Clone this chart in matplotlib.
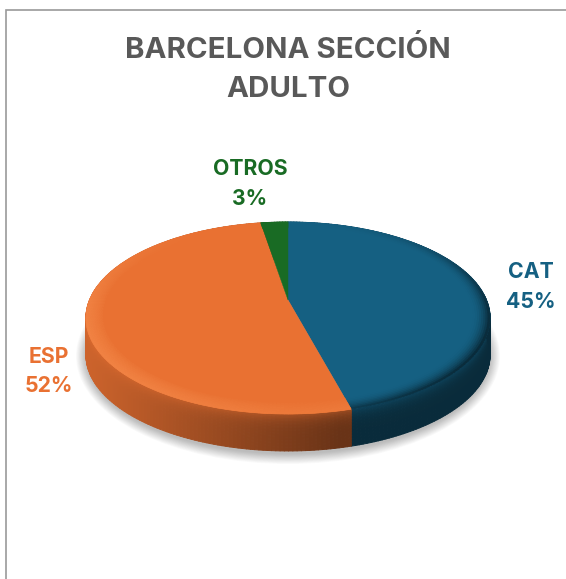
import numpy as np
import matplotlib
matplotlib.use("Agg")
import matplotlib.pyplot as plt
from matplotlib.collections import PolyCollection
from matplotlib.colors import to_rgb
from matplotlib.patches import Ellipse
from matplotlib.transforms import Transform

# Data
categories = ["CAT", "ESP", "OTROS"]
values = [45.8, 51.6, 2.6]
pct_labels = ["45%", "52%", "3%"]
colors = ["#156082", "#E97132", "#196B24"]
title = "BARCELONA SECCIÓN\nADULTO"

# Label positions in pixels
label_pos = [(531, 287), (49, 371.5), (250, 184)]

# Pie geometry in pixels (tilted disc with a bit of perspective)
cx, cy = 288, 300
half_w, half_h = 198.5, 92.6
persp = 0.1875
depth = 37

plt.rcParams["font.family"] = ["Inter", "Liberation Sans", "DejaVu Sans"]


class TiltedDisc(Transform):
    """Maps the unit pie circle onto the tilted disc, in pixel coordinates."""
    input_dims = 2
    output_dims = 2

    def transform_non_affine(self, values):
        xy = np.asarray(values, dtype=float)
        w = 1 + persp * xy[:, 1]
        return np.column_stack([cx + half_w * xy[:, 0] / w, cy - half_h * xy[:, 1] / w])


def mix(c, other, t):
    return tuple(np.array(to_rgb(c)) * (1 - t) + np.array(to_rgb(other)) * t)


def side_colour(base, x):
    # darker to the right, a bit lighter on the far left
    s = (x - 86) / 404
    return mix(base, "#000000", 0.12 + 0.43 * min(s * 1.6, 1.0))


fig = plt.figure(figsize=(5.66, 5.79), dpi=100)
ax = fig.add_axes([0, 0, 1, 1])

wedges, _ = ax.pie(values, colors=colors, startangle=90, counterclock=False)
ax.set_aspect("auto")
ax.set_xlim(0, 566)
ax.set_ylim(579, 0)
ax.axis("off")

disc = TiltedDisc()

# soft shadow under the pie
for grow in np.linspace(20, 0, 14):
    ax.add_patch(Ellipse((cx, 356), 2 * 202 + grow, 196 + grow, fc="#000000", ec="none",
                         alpha=0.018, zorder=1))

# side wall, quads along the rim
side_polys, side_cols = [], []
for w, c in zip(wedges, colors):
    th = np.radians(np.linspace(w.theta1, w.theta2, int(abs(w.theta2 - w.theta1)) + 2))
    rim = disc.transform_non_affine(np.column_stack([np.cos(th), np.sin(th)]))
    steps = np.linspace(0, 1, 25)
    for i in range(len(th) - 1):
        a, b = rim[i], rim[i + 1]
        for s0, s1 in zip(steps[:-1], steps[1:]):
            side_polys.append([a + [0, depth * s0], b + [0, depth * s0],
                               b + [0, depth * s1], a + [0, depth * s1]])
            col = side_colour(c, a[0])
            side_cols.append(mix(col, c, 0.4 * (1 - s0) ** 5))
ax.add_collection(PolyCollection(side_polys, facecolors=side_cols, edgecolors=side_cols,
                                 linewidths=0.7, zorder=2))

# top face
for w, c in zip(wedges, colors):
    w.set_transform(disc + ax.transData)
    w.set_edgecolor(c)
    w.set_linewidth(0.3)
    w.set_zorder(3)
    w.set_clip_on(False)

# bevel along the rim of the top face
bevel_polys, bevel_cols = [], []
radii = np.linspace(0.91, 1.0, 10)
for w, c in zip(wedges, colors):
    th = np.radians(np.linspace(w.theta1, w.theta2, int(abs(w.theta2 - w.theta1)) + 2))
    for i in range(len(th) - 1):
        t0, t1 = th[i], th[i + 1]
        for r0, r1 in zip(radii[:-1], radii[1:]):
            quad = np.array([[r0 * np.cos(t0), r0 * np.sin(t0)], [r0 * np.cos(t1), r0 * np.sin(t1)],
                             [r1 * np.cos(t1), r1 * np.sin(t1)], [r1 * np.cos(t0), r1 * np.sin(t0)]])
            bevel_polys.append(disc.transform_non_affine(quad))
            edge = (r0 - 0.91) / 0.09
            facing_left = max(0.0, -np.cos(t0))
            facing_right = max(0.0, np.cos(t0))
            back = max(0.0, np.sin(t0))
            front = max(0.0, -np.sin(t0))
            if c == colors[1]:
                light = (0.35 * facing_left * (1 - back) + 0.2 * front) * edge ** 0.7
                bevel_cols.append(mix(c, "#FFA060", min(light, 0.6)))
            else:
                dark = (0.6 * facing_right * (1 - 0.9 * back) + 0.35 * front) * edge ** 2
                bevel_cols.append(mix(c, "#000000", min(dark, 0.7)))
ax.add_collection(PolyCollection(bevel_polys, facecolors=bevel_cols, edgecolors=bevel_cols,
                                 linewidths=0.5, zorder=4))

# labels
for name, pct, c, (lx, ly) in zip(categories, pct_labels, colors, label_pos):
    ax.text(lx, ly, f"{name}\n{pct}", color=c, ha="center", va="center",
            fontsize=15.3, fontweight="bold", linespacing=1.6, zorder=5)

ax.text(288, 69.5, title, color="#595959", ha="center", va="center",
        fontsize=21.2, fontweight="bold", linespacing=1.55)

# chart frame, only top and left are in view
ax.plot([566, 6, 6], [9.5, 9.5, 579], color="#9a9a9a", lw=1.2, solid_joinstyle="miter", zorder=6)

fig.savefig("out.png", dpi=100)
